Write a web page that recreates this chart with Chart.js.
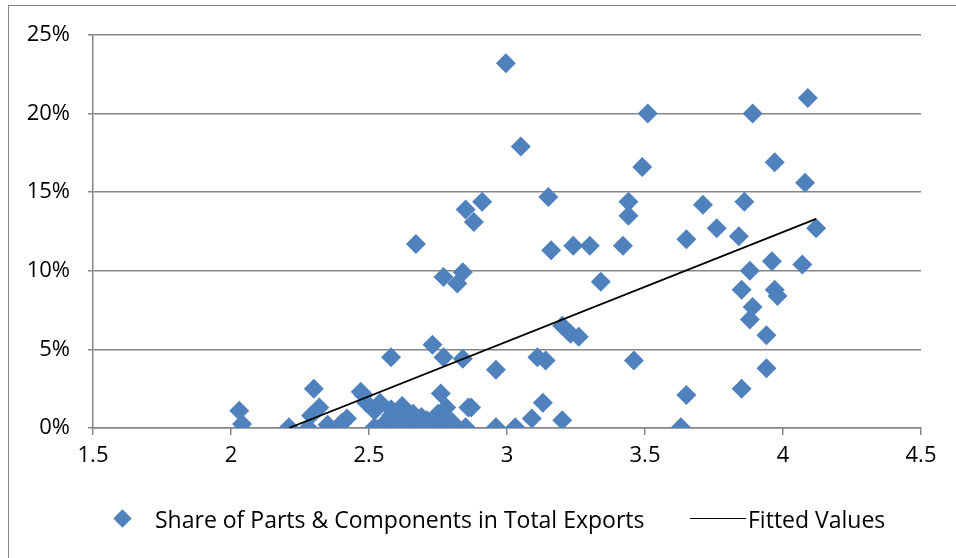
<!DOCTYPE html>
<html>
<head>
<meta charset="utf-8">
<script src="https://cdn.jsdelivr.net/npm/chart.js@4"></script>
<style>
  html, body { margin: 0; padding: 0; background: #fff; }
  #wrap { position: relative; width: 956px; height: 558px; overflow: hidden; }
  #frame { position: absolute; left: 8px; top: 5px; width: 960px; height: 600px; border: 1px solid #868686; }
  #myChart { position: absolute; left: 0; top: 0; }
  .legend { position: absolute; top: 504px; font-family: 'Open Sans', sans-serif; font-size: 23px; color: #000; line-height: 30px; white-space: nowrap; }
  .diamond { position: absolute; left: 116px; top: 512px; width: 13px; height: 13px; background: #4F81BD; transform: rotate(45deg); }
  .fitline { position: absolute; left: 690px; top: 518px; width: 56px; height: 0; border-top: 1.5px solid #000; }
</style>
</head>
<body>
<div id="wrap">
  <div id="frame"></div>
  <canvas id="myChart" width="956" height="558"></canvas>
  <div class="diamond"></div>
  <div class="legend" style="left:155px">Share of Parts &amp; Components in Total Exports</div>
  <div class="fitline"></div>
  <div class="legend" style="left:748px">Fitted Values</div>
</div>
<script>
/*
  • Data
  ---------- ---------- ---------- ---------- ----------
*/

// x values (log of something)
const shareX = [
  2.996, 3.51, 3.89, 4.09, 3.05, 3.49, 3.97, 4.08, 2.85, 2.91,
  2.88, 3.15, 3.44, 3.44, 3.71, 3.86, 3.76, 4.12, 3.84, 2.67,
  3.24, 3.30, 3.42, 3.16, 3.65, 3.96, 4.07, 3.88, 2.77, 2.84,
  2.82, 3.34, 3.85, 3.97, 3.98, 3.89, 3.88, 3.94, 3.20, 3.23,
  3.26, 2.73, 2.58, 2.77, 2.84, 3.11, 3.14, 3.46, 2.96, 3.94,
  3.85, 3.65, 2.30, 2.47, 2.76, 2.03, 2.04, 3.63, 2.96, 3.03,
  3.09, 3.13, 3.20, 2.86, 2.21, 2.28, 2.29, 2.32, 2.39, 2.42,
  2.49, 2.54, 2.52, 2.55, 2.58, 2.62, 2.61, 2.65, 2.69, 2.71,
  2.75, 2.76, 2.80, 2.85, 2.78, 2.87, 2.55, 2.60, 2.69, 2.48,
  2.52, 2.58, 2.66, 2.61, 2.73, 2.77, 2.70, 2.64, 2.35, 2.40
];

// share of parts & components in total exports (fraction)
const shareY = [
  0.232, 0.200, 0.200, 0.210, 0.179, 0.166, 0.169, 0.156, 0.139, 0.144,
  0.131, 0.147, 0.144, 0.135, 0.142, 0.144, 0.127, 0.127, 0.122, 0.117,
  0.116, 0.116, 0.116, 0.113, 0.120, 0.106, 0.104, 0.100, 0.096, 0.099,
  0.092, 0.093, 0.088, 0.088, 0.084, 0.077, 0.069, 0.059, 0.065, 0.060,
  0.058, 0.053, 0.045, 0.045, 0.044, 0.045, 0.043, 0.043, 0.037, 0.038,
  0.025, 0.021, 0.025, 0.023, 0.022, 0.011, 0.0025, 0.0005, 0.0005, 0.0005,
  0.006, 0.016, 0.005, 0.013, 0.0005, 0.000, 0.008, 0.013, 0.000, 0.006,
  0.016, 0.016, 0.0005, 0.002, 0.012, 0.014, 0.005, 0.0005, 0.007, 0.005,
  0.009, 0.0005, 0.004, 0.0005, 0.013, 0.013, 0.000, 0.000, 0.000, 0.021,
  0.011, 0.008, 0.009, 0.010, 0.004, 0.006, 0.002, 0.004, 0.002, 0.003
];

// fitted regression line end points
const fitX = [2.21, 4.12];
const fitY = [0.000, 0.133];

const xTicks = [1.5, 2, 2.5, 3, 3.5, 4, 4.5];
const yTicks = [0, 0.05, 0.10, 0.15, 0.20, 0.25];

/*
  • Chart
  ---------- ---------- ---------- ---------- ----------
*/

const BLUE = '#4F81BD';
const GRID = '#868686';
const tickFont = {family: 'Open Sans', size: 22};

const points = shareX.map((x, i) => ({x: x, y: shareY[i]}));
const fitted = fitX.map((x, i) => ({x: x, y: fitY[i]}));

const ctx = document.getElementById('myChart').getContext('2d');
new Chart(ctx, {
  type: 'scatter',
  data: {
    datasets: [{
      label: 'Share of Parts & Components in Total Exports',
      data: points,
      pointStyle: 'rectRot',
      pointRadius: 10,
      pointBackgroundColor: BLUE,
      pointBorderColor: BLUE,
      pointBorderWidth: 0
    }, {
      type: 'line',
      label: 'Fitted Values',
      data: fitted,
      borderColor: '#000',
      borderWidth: 1.8,
      pointRadius: 0,
      fill: false,
      order: -1
    }]
  },
  options: {
    responsive: false,
    animation: false,
    layout: {
      padding: {left: 0, top: 35, right: 35, bottom: 0}
    },
    plugins: {
      legend: {display: false},
      tooltip: {enabled: false}
    },
    scales: {
      x: {
        type: 'linear',
        min: 1.5,
        max: 4.5,
        afterBuildTicks: (s) => { s.ticks = xTicks.map(v => ({value: v})); },
        afterFit: (s) => { s.height = 130; },
        border: {color: GRID, width: 1.5},
        grid: {drawOnChartArea: false, drawTicks: true, tickLength: 7, color: GRID, lineWidth: 1.5},
        ticks: {
          color: '#000',
          font: tickFont,
          padding: 8,
          maxRotation: 0,
          callback: (v) => String(v)
        }
      },
      y: {
        min: 0,
        max: 0.25,
        afterBuildTicks: (s) => { s.ticks = yTicks.map(v => ({value: v})); },
        afterFit: (s) => { s.width = 93; },
        border: {color: GRID, width: 1.5},
        grid: {color: GRID, lineWidth: 1.5, tickLength: 5},
        ticks: {
          color: '#000',
          font: tickFont,
          padding: 18,
          callback: (v) => Math.round(v * 100) + '%'
        }
      }
    }
  }
});
</script>
</body>
</html>
